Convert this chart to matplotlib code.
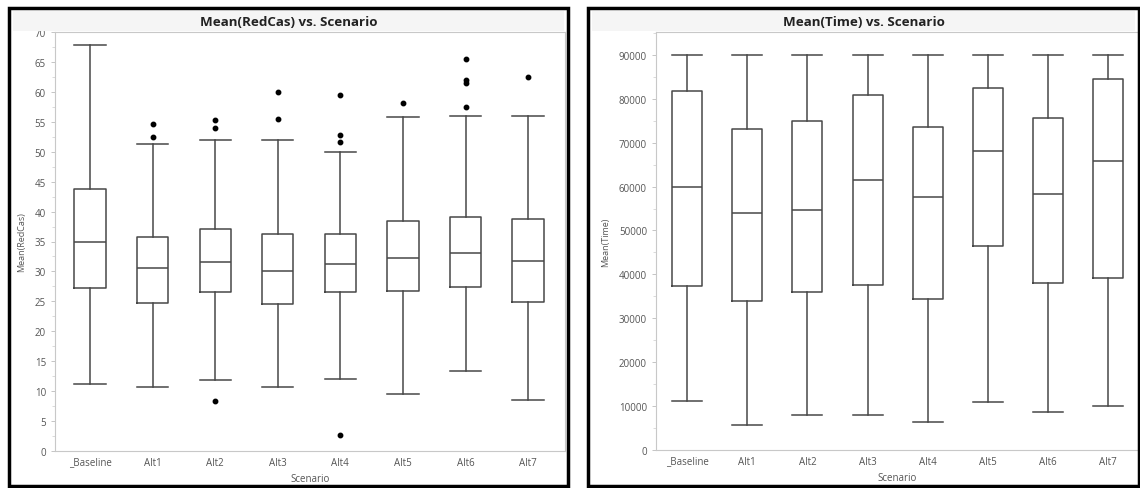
import matplotlib.pyplot as plt
from matplotlib.patches import Rectangle

scenarios = ['_Baseline', 'Alt1', 'Alt2', 'Alt3', 'Alt4', 'Alt5', 'Alt6', 'Alt7']

# Mean(RedCas) box statistics per scenario
red_whislo = [11.2, 10.7, 11.9, 10.7, 12.1, 9.6, 13.4, 8.6]
red_q1 = [27.2, 24.8, 26.6, 24.6, 26.5, 26.7, 27.4, 24.9]
red_med = [35.0, 30.5, 31.5, 30.1, 31.3, 32.3, 33.0, 31.8]
red_q3 = [43.8, 35.8, 37.1, 36.3, 36.3, 38.5, 39.1, 38.7]
red_whishi = [67.8, 51.3, 52.0, 51.9, 50.0, 55.8, 56.0, 55.9]
red_fliers = [[], [54.7, 52.5], [55.3, 54.0, 8.4], [60.0, 55.5],
              [59.4, 52.8, 51.6, 2.6], [58.2], [65.5, 62.0, 61.5, 57.5], [62.5]]

# Mean(Time) box statistics per scenario
time_whislo = [11200, 5700, 8000, 8000, 6400, 10900, 8700, 10000]
time_q1 = [37400, 33900, 36000, 37600, 34400, 46500, 38000, 39100]
time_med = [59900, 54000, 54700, 61500, 57600, 68100, 58300, 65900]
time_q3 = [81800, 73100, 75000, 80900, 73600, 82500, 75600, 84500]
time_whishi = [90000, 90000, 90000, 90000, 90000, 90000, 90000, 90000]

W, H = 1140, 489
fig = plt.figure(figsize=(W / 100, H / 100), dpi=100)
plt.rcParams['font.family'] = ['Open Sans', 'DejaVu Sans']


def px(x0, y0, x1, y1):
    # pixel box (top-left origin) -> figure rect
    return [x0 / W, 1 - y1 / H, (x1 - x0) / W, (y1 - y0) / H]


def make_stats(lo, q1, med, q3, hi, fl=None):
    out = []
    for i in range(len(lo)):
        out.append({'whislo': lo[i], 'q1': q1[i], 'med': med[i], 'q3': q3[i],
                    'whishi': hi[i], 'fliers': fl[i] if fl else []})
    return out


def draw_panel(ax, stats, title, ylabel, panel_px, xlim):
    line = dict(color='#484848', linewidth=1.1)
    ax.bxp(stats, positions=range(len(stats)), widths=0.5, showfliers=True,
           boxprops=line, whiskerprops=line, capprops=line,
           medianprops=line, capwidths=0.5,
           flierprops=dict(marker='o', markerfacecolor='black',
                           markeredgecolor='black', markersize=3.2))
    ax.set_xticks(range(len(scenarios)))
    ax.set_xticklabels(scenarios)
    ax.set_xlim(*xlim)
    for s in ax.spines.values():
        s.set_color('#c8c8c8')
        s.set_linewidth(0.8)
    ax.tick_params(axis='both', labelsize=7, colors='#bbbbbb',
                   labelcolor='#555555', length=3, width=0.6)
    ax.tick_params(axis='x', length=0, pad=4)
    ax.set_xlabel('Scenario', fontsize=7, color='#555555', labelpad=4)
    ax.set_ylabel(ylabel, fontsize=6.5, color='#555555', labelpad=6)
    x0, y0, x1, y1 = panel_px
    fig.text((x0 + x1) / 2 / W, 1 - 22 / H, title, ha='center', va='center',
             fontsize=9.6, fontweight='bold', color='#222222')
    # title band and panel frame
    fig.patches.append(Rectangle(((x0 + 4) / W, 1 - 32 / H), (x1 - x0 - 8) / W,
                                 20 / H, transform=fig.transFigure,
                                 facecolor='#f5f5f5', edgecolor='none', zorder=0))
    fig.patches.append(Rectangle((x0 / W, 1 - y1 / H), (x1 - x0) / W,
                                 (y1 - y0) / H, transform=fig.transFigure,
                                 facecolor='none', edgecolor='black',
                                 linewidth=2.5, zorder=5))


ax1 = fig.add_axes(px(55, 33, 565, 452))
draw_panel(ax1, make_stats(red_whislo, red_q1, red_med, red_q3, red_whishi, red_fliers),
           'Mean(RedCas) vs. Scenario', 'Mean(RedCas)', (9, 9, 568, 487), (-0.56, 7.59))
ax1.set_ylim(0, 70)
ax1.set_yticks(range(0, 71, 5))
ax1.set_yticks([v + 2.5 for v in range(0, 70, 5)], minor=True)
ax1.tick_params(axis='y', which='minor', length=2, width=0.5, colors='#cccccc')

ax2 = fig.add_axes(px(656, 33, 1138, 451))
draw_panel(ax2, make_stats(time_whislo, time_q1, time_med, time_q3, time_whishi),
           'Mean(Time) vs. Scenario', 'Mean(Time)', (588, 9, 1139, 487), (-0.52, 7.5))
ax2.set_ylim(0, 95200)
ax2.set_yticks(range(0, 90001, 10000))
ax2.set_yticks(range(5000, 95001, 10000), minor=True)
ax2.tick_params(axis='y', which='minor', length=2, width=0.5, colors='#cccccc')

fig.savefig('out.png', dpi=100)
